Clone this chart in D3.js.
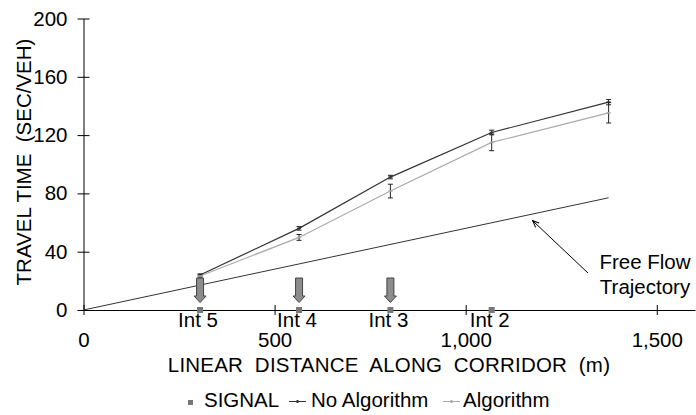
<!DOCTYPE html>
<html><head><meta charset="utf-8">
<script src="https://cdn.jsdelivr.net/npm/d3@7"></script>
<style>
body{margin:0;background:#fff;}
text{font-family:"Liberation Sans",Arial,sans-serif;fill:#000;}
</style></head>
<body><svg id="c" width="696" height="415"></svg>
<script>
const signalNames = ["Int 5","Int 4","Int 3","Int 2"];
const signalDist = [305, 564, 803, 1068];
const distances = [305, 564, 803, 1068, 1374];
const noAlgo = [24, 56, 91.2, 121.8, 142.6];
const noAlgoErr = [0.8, 1.2, 1.2, 1.6, 1.8];
const algo = [23.3, 49.8, 81.6, 115, 135.3];
const algoErr = [0.8, 2, 4.7, 5.7, 7];
const freeFlowX = [0, 1374];
const freeFlowY = [0, 77];
const arrowSignals = [305, 564, 803];
const xTicks = [0, 500, 1000, 1500];
const yTicks = [0, 40, 80, 120, 160, 200];

const FS = 20.5;
const svg = d3.select("#c");
const x = d3.scaleLinear().domain([0, 1600]).range([83.5, 695]);
const y = d3.scaleLinear().domain([0, 200]).range([310, 18.5]);

// axes
const yAxis = d3.axisLeft(y).tickValues(yTicks).tickSizeInner(6).tickSizeOuter(0).tickPadding(10);
const gy = svg.append("g").attr("transform", `translate(${x(0)},0)`).call(yAxis);
gy.select(".domain").attr("stroke", "#000");
gy.selectAll(".tick line").attr("x1", -6).attr("x2", 6).attr("stroke", "#000");
gy.selectAll(".tick text").attr("font-size", FS).attr("font-family", "Liberation Sans, Arial, sans-serif").attr("fill", "#000");

const xAxis = d3.axisBottom(x).tickValues(xTicks).tickFormat(d3.format(",")).tickSizeInner(5).tickSizeOuter(0).tickPadding(17.5);
const gx = svg.append("g").attr("transform", `translate(0,${y(0)})`).call(xAxis);
gx.select(".domain").attr("stroke", "#000");
gx.selectAll(".tick line").attr("y1", -5).attr("y2", 5).attr("stroke", "#000");
gx.selectAll(".tick text").attr("font-size", FS).attr("font-family", "Liberation Sans, Arial, sans-serif").attr("fill", "#000");

// titles
svg.append("text").attr("transform", `translate(31,162) rotate(-90)`).attr("text-anchor", "middle")
  .attr("font-size", FS).style("white-space", "pre").text("TRAVEL TIME  (SEC/VEH)");
svg.append("text").attr("x", 389).attr("y", 371.5).attr("text-anchor", "middle")
  .attr("font-size", FS).style("white-space", "pre").attr("letter-spacing", 0.2).text("LINEAR  DISTANCE  ALONG  CORRIDOR  (m)");

// free flow line
const ffData = freeFlowX.map((d, i) => [d, freeFlowY[i]]);
svg.append("path").datum(ffData).attr("fill", "none").attr("stroke", "#333").attr("stroke-width", 1)
  .attr("d", d3.line().x(d => x(d[0])).y(d => y(d[1])));

// series
function drawSeries(vals, errs, color) {
  const data = distances.map((d, i) => ({d, v: vals[i], e: errs[i]}));
  svg.append("path").datum(data).attr("fill", "none").attr("stroke", color).attr("stroke-width", 1.2)
    .attr("d", d3.line().x(p => x(p.d)).y(p => y(p.v)));
  const g = svg.append("g");
  data.forEach(p => {
    const cx = x(p.d);
    g.append("line").attr("x1", cx).attr("x2", cx).attr("y1", y(p.v + p.e)).attr("y2", y(p.v - p.e)).attr("stroke", "#222").attr("stroke-width", 1);
    g.append("line").attr("x1", cx - 2.5).attr("x2", cx + 2.5).attr("y1", y(p.v + p.e)).attr("y2", y(p.v + p.e)).attr("stroke", "#222").attr("stroke-width", 1);
    g.append("line").attr("x1", cx - 2.5).attr("x2", cx + 2.5).attr("y1", y(p.v - p.e)).attr("y2", y(p.v - p.e)).attr("stroke", "#222").attr("stroke-width", 1);
    g.append("line").attr("x1", cx - 2).attr("x2", cx + 2).attr("y1", y(p.v)).attr("y2", y(p.v)).attr("stroke", color).attr("stroke-width", 1.5);
  });
}
drawSeries(noAlgo, noAlgoErr, "#333");
drawSeries(algo, algoErr, "#aaa");

// block arrows
arrowSignals.forEach(d => {
  const cx = x(d), top = 278, hs = 296, tip = 302.5;
  const pts = [[cx-3.5,top],[cx+3.5,top],[cx+3.5,hs],[cx+6,hs],[cx,tip],[cx-6,hs],[cx-3.5,hs]];
  svg.append("path").attr("d", d3.line()(pts) + "Z").attr("fill", "#8c8c8c").attr("stroke", "#444").attr("stroke-width", 1);
});

// signal markers
svg.selectAll(".sig").data(signalDist).enter().append("rect")
  .attr("x", d => x(d) - 3).attr("y", y(0) - 3).attr("width", 6).attr("height", 6).attr("fill", "#777");
// signal labels
svg.selectAll(".sl").data(signalDist).enter().append("text")
  .attr("x", d => x(d) - 2).attr("y", 327).attr("text-anchor", "middle").attr("font-size", FS)
  .text((d, i) => signalNames[i]);

// annotation
svg.append("text").attr("x", 645).attr("y", 268.5).attr("text-anchor", "middle").attr("font-size", FS).text("Free Flow");
svg.append("text").attr("x", 645).attr("y", 293.5).attr("text-anchor", "middle").attr("font-size", FS).text("Trajectory");
svg.append("defs").append("marker").attr("id", "ah").attr("viewBox", "0 0 10 10").attr("refX", 9).attr("refY", 5)
  .attr("markerWidth", 7).attr("markerHeight", 7).attr("orient", "auto")
  .append("path").attr("d", "M0,1 L10,5 L0,9").attr("fill", "none").attr("stroke", "#000").attr("stroke-width", 1.5);
svg.append("line").attr("x1", 588).attr("y1", 273).attr("x2", 533).attr("y2", 221).attr("stroke", "#000").attr("stroke-width", 1).attr("marker-end", "url(#ah)");

// legend
const lg = svg.append("g");
lg.append("rect").attr("x", 188).attr("y", 400).attr("width", 5).attr("height", 5).attr("fill", "#777");
lg.append("text").attr("x", 204).attr("y", 407).attr("font-size", FS).text("SIGNAL");
lg.append("line").attr("x1", 289).attr("x2", 306).attr("y1", 401.5).attr("y2", 401.5).attr("stroke", "#333");
lg.append("line").attr("x1", 297.5).attr("x2", 297.5).attr("y1", 400).attr("y2", 403).attr("stroke", "#333").attr("stroke-width", 2);
lg.append("text").attr("x", 311).attr("y", 407).attr("font-size", FS).text("No Algorithm");
lg.append("line").attr("x1", 443).attr("x2", 460).attr("y1", 401.5).attr("y2", 401.5).attr("stroke", "#aaa");
lg.append("line").attr("x1", 451.5).attr("x2", 451.5).attr("y1", 400).attr("y2", 403).attr("stroke", "#aaa").attr("stroke-width", 2);
lg.append("text").attr("x", 463).attr("y", 407).attr("font-size", FS).text("Algorithm");
</script></body></html>
